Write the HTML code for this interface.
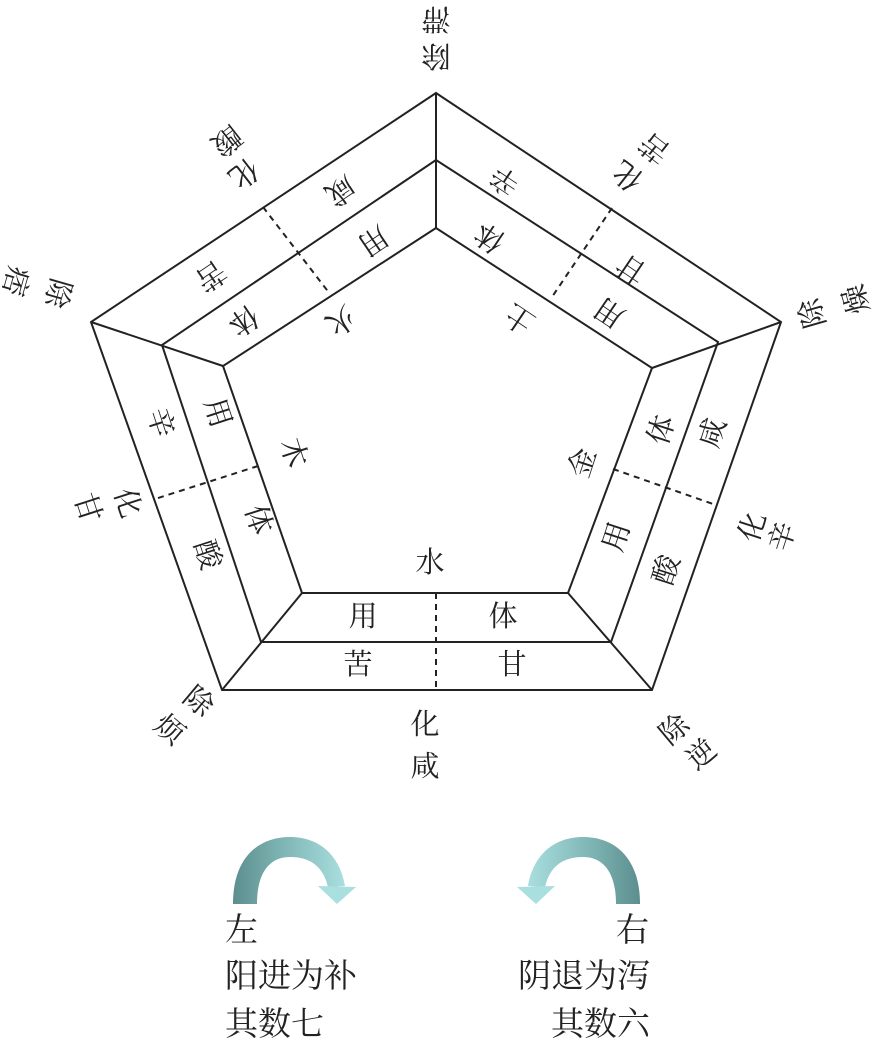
<!DOCTYPE html>
<html><head><meta charset="utf-8"><style>
html,body{margin:0;padding:0;background:#fff;}
svg{display:block;}
text{font-family:"Liberation Serif","Noto Serif CJK SC","Noto Sans CJK SC",serif;font-size:29px;fill:#222;text-anchor:middle;dominant-baseline:central;}
.b{font-size:33px;text-anchor:start;dominant-baseline:alphabetic;}
</style></head><body>
<svg width="878" height="1039" viewBox="0 0 878 1039" xmlns="http://www.w3.org/2000/svg">
<defs>
<linearGradient id="gl" x1="0" x2="1" y1="0" y2="0"><stop offset="0" stop-color="#5c8e8e"/><stop offset="0.45" stop-color="#7fb6b5"/><stop offset="1" stop-color="#a9dfdf"/></linearGradient>
</defs>
<g fill="none" stroke="#222" stroke-width="2">
<polygon points="436,93 781,322 652,690 222,690 91,322"/>
<polygon points="436,160 718,342 611,642 261,642 162,345"/>
<polygon points="436,228 652,368 568,593 302,593 223,366"/>
<line x1="436" y1="93" x2="436" y2="228"/>
<line x1="781" y1="322" x2="652" y2="368"/>
<line x1="652" y1="690" x2="568" y2="593"/>
<line x1="222" y1="690" x2="302" y2="593"/>
<line x1="91" y1="322" x2="223" y2="366"/>
</g>
<g fill="none" stroke="#222" stroke-width="2" stroke-dasharray="6,5">
<line x1="436" y1="593" x2="436" y2="690"/>
<line x1="258" y1="466" x2="155" y2="499"/>
<line x1="613" y1="469" x2="716" y2="505"/>
<line x1="263" y1="207" x2="330" y2="294"/>
<line x1="612" y1="208" x2="552" y2="297"/>
</g>
<text x="363" y="617">用</text><text x="503" y="617">体</text>
<text x="358" y="665">苦</text><text x="512" y="665">甘</text>
<text x="430" y="563">水</text>
<text x="425" y="725">化</text><text x="425" y="767">咸</text>
<g>
<text x="217" y="413" transform="rotate(72 217 413)">用</text>
<text x="258" y="520" transform="rotate(72 258 520)">体</text>
<text x="160" y="423" transform="rotate(72 160 423)">辛</text>
<text x="207" y="555" transform="rotate(72 207 555)">酸</text>
<text x="293" y="453" transform="rotate(72 293 453)">木</text>
<text x="127" y="503" transform="rotate(72 127 503)">化</text>
<text x="87" y="508" transform="rotate(72 87 508)">甘</text>
</g>
<g>
<text x="662" y="430" transform="rotate(-72 662 430)">体</text>
<text x="713" y="433" transform="rotate(-72 713 433)">咸</text>
<text x="583" y="463" transform="rotate(-72 583 463)">金</text>
<text x="617" y="537" transform="rotate(-72 617 537)">用</text>
<text x="667" y="570" transform="rotate(-72 667 570)">酸</text>
<text x="753" y="527" transform="rotate(-72 753 527)">化</text>
<text x="783" y="537" transform="rotate(-72 783 537)">辛</text>
</g>
<g>
<text x="340" y="190" transform="rotate(146 340 190)">咸</text>
<text x="373" y="240" transform="rotate(146 373 240)">用</text>
<text x="210" y="275" transform="rotate(146 210 275)">苦</text>
<text x="243" y="320" transform="rotate(146 243 320)">体</text>
<text x="340" y="320" transform="rotate(146 340 320)">火</text>
<text x="243" y="173" transform="rotate(142 243 173)">化</text>
<text x="226" y="140" transform="rotate(142 226 140)">酸</text>
</g>
<g>
<text x="505" y="180" transform="rotate(-146 505 180)">辛</text>
<text x="490" y="237" transform="rotate(-146 490 237)">体</text>
<text x="632" y="268" transform="rotate(-146 632 268)">甘</text>
<text x="610" y="312" transform="rotate(-146 610 312)">用</text>
<text x="520" y="318" transform="rotate(-146 520 318)">土</text>
<text x="628" y="175" transform="rotate(-142 628 175)">化</text>
<text x="655" y="147" transform="rotate(-142 655 147)">苦</text>
</g>
<text x="436" y="55" transform="rotate(180 436 55)">除</text>
<text x="436" y="18" transform="rotate(180 436 18)">滞</text>
<text x="813" y="313" transform="rotate(-106 813 313)">除</text>
<text x="857" y="299" transform="rotate(-106 857 299)">燥</text>
<text x="57" y="293" transform="rotate(106 57 293)">除</text>
<text x="15" y="281" transform="rotate(106 15 281)">痞</text>
<text x="198" y="702" transform="rotate(40 198 702)">除</text>
<text x="169" y="730" transform="rotate(40 169 730)">烦</text>
<text x="675" y="730" transform="rotate(-40 675 730)">除</text>
<text x="702" y="755" transform="rotate(-40 702 755)">逆</text>
<path d="M233,904 C233,858 258,837 290,837 C320,837 340,856 345,886 L328,887 C323,866 310,857 290,857 C270,857 257,872 257,904 Z" fill="url(#gl)"/>
<polygon points="318,886 356,887 337,904" fill="#a9dfdf"/>
<g transform="translate(873,0) scale(-1,1)">
<path d="M233,904 C233,858 258,837 290,837 C320,837 340,856 345,886 L328,887 C323,866 310,857 290,857 C270,857 257,872 257,904 Z" fill="url(#gl)"/>
<polygon points="318,886 356,887 337,904" fill="#a9dfdf"/>
</g>
<text class="b" x="225" y="941">左</text>
<text class="b" x="225" y="987">阳进为补</text>
<text class="b" x="225" y="1035">其数七</text>
<text class="b" x="616" y="941">右</text>
<text class="b" x="518" y="987">阴退为泻</text>
<text class="b" x="551" y="1035">其数六</text>
</svg>
</body></html>
